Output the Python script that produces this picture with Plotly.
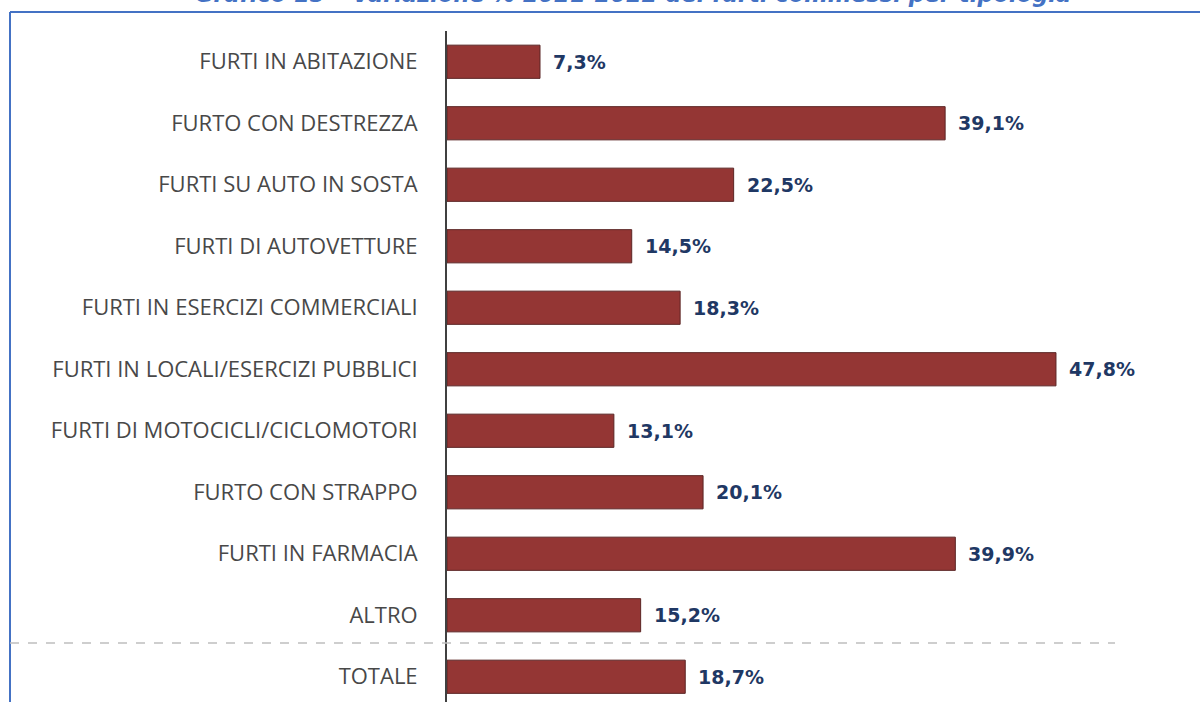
import plotly.graph_objects as go

categories = [
    "FURTI IN ABITAZIONE",
    "FURTO CON DESTREZZA",
    "FURTI SU AUTO IN SOSTA",
    "FURTI DI AUTOVETTURE",
    "FURTI IN ESERCIZI COMMERCIALI",
    "FURTI IN LOCALI/ESERCIZI PUBBLICI",
    "FURTI DI MOTOCICLI/CICLOMOTORI",
    "FURTO CON STRAPPO",
    "FURTI IN FARMACIA",
    "ALTRO",
    "TOTALE",
]
variazione = [7.3, 39.1, 22.5, 14.5, 18.3, 47.8, 13.1, 20.1, 39.9, 15.2, 18.7]
positions = list(range(len(categories)))

title = "Grafico 15 – Variazione % 2021-2022 dei furti commessi per tipologia"

W, H = 1200, 702
L, T = 447, 31
plot_w = W - L
plot_h = H - T
px_per_unit = 12.74
slot = 61.5


def px_x(p):
    # pixel -> paper x
    return (p - L) / plot_w


def px_y(p):
    # pixel -> paper y
    return (H - p) / plot_h


fig = go.Figure()
fig.add_trace(go.Bar(
    x=variazione, y=positions, orientation="h",
    width=0.54,
    marker=dict(color="#943634", line=dict(color="#5b2524", width=1)),
    hoverinfo="skip",
))

# value labels to the right of each bar
for v, p in zip(variazione, positions):
    fig.add_annotation(
        x=v, y=p, xref="x", yref="y",
        text="{:.1f}%".format(v).replace(".", ","),
        showarrow=False, xanchor="left", yanchor="middle", xshift=11,
        font=dict(family="DejaVu Sans", size=19, color="#1F3864", weight="bold"),
    )

# title (cut off at top like the reference)
fig.add_annotation(
    x=px_x(633), y=px_y(9), xref="paper", yref="paper",
    text="<b><i>" + title + "</i></b>", showarrow=False,
    xanchor="center", yanchor="bottom",
    font=dict(family="DejaVu Sans", size=22.5, color="#4472C4"),
)

# frame
fig.add_shape(type="line", xref="paper", yref="paper",
              x0=px_x(10), x1=px_x(1200), y0=px_y(12), y1=px_y(12),
              line=dict(color="#4472C4", width=2))
fig.add_shape(type="line", xref="paper", yref="paper",
              x0=px_x(10), x1=px_x(10), y0=px_y(12), y1=px_y(702),
              line=dict(color="#4472C4", width=2))

# dashed separator before TOTALE
fig.add_shape(type="line", xref="paper", yref="y",
              x0=px_x(10), x1=px_x(1115), y0=9.45, y1=9.45,
              line=dict(color="#BFBFBF", width=1.5, dash="dash"))

fig.update_layout(
    width=W, height=H,
    margin=dict(l=L, r=0, t=T, b=0),
    plot_bgcolor="white", paper_bgcolor="white",
    showlegend=False,
    xaxis=dict(range=[0, plot_w / px_per_unit], visible=False),
    yaxis=dict(
        range=[-0.5 + plot_h / slot, -0.5],
        tickvals=positions, ticktext=categories,
        showgrid=False, zeroline=False,
        showline=True, linecolor="#404040", linewidth=2,
        ticks="", ticklabelstandoff=23,
        tickfont=dict(family="Open Sans", size=22, color="#484848"),
    ),
)

fig.write_html("out.html", config={"displayModeBar": False},
               post_script="document.body.style.margin='0';")
